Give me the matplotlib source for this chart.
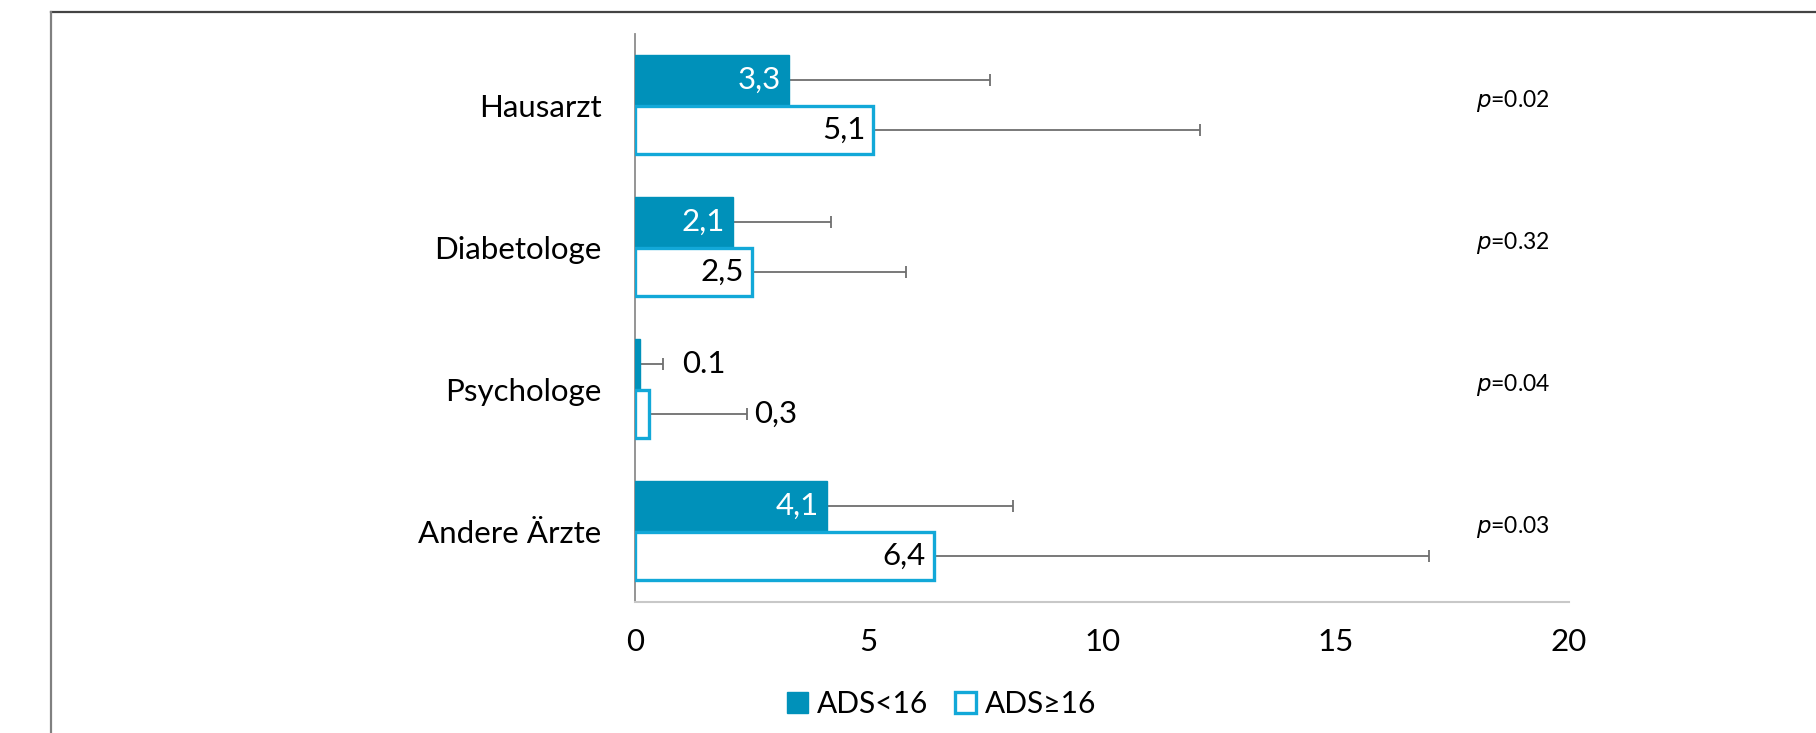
import numpy as np
import matplotlib.pyplot as plt
from matplotlib.lines import Line2D
from matplotlib.patches import Patch

plt.rcParams['font.family'] = ['Lato', 'DejaVu Sans']

categories = ['Hausarzt', 'Diabetologe', 'Psychologe', 'Andere Ärzte']
mean_low = [3.3, 2.1, 0.1, 4.1]      # ADS<16
sd_low = [4.3, 2.1, 0.5, 4.0]
mean_high = [5.1, 2.5, 0.3, 6.4]     # ADS>=16
sd_high = [7.0, 3.3, 2.1, 10.6]
labels_low = ['3,3', '2,1', '0.1', '4,1']
labels_high = ['5,1', '2,5', '0,3', '6,4']
p_values = ['0.02', '0.32', '0.04', '0.03']

fill_col = '#0091BA'
edge_col = '#12A8D8'
err_col = '#6e6e6e'
fs = 22.5

fig = plt.figure(figsize=(18.16, 7.33), dpi=100)
ax = fig.add_axes([0.3497, 0.1787, 0.8640 - 0.3497, 0.9536 - 0.1787])

y = np.arange(len(categories))
h = 0.355
y_low = y - h / 2
y_high = y + h / 2

ax.barh(y_low, mean_low, height=h, color=fill_col, edgecolor=fill_col, linewidth=1, zorder=3)
ax.barh(y_high, mean_high, height=h - 0.02, color='white', edgecolor=edge_col, linewidth=2.4, zorder=3)

# one-sided error bars (mean + SD)
for yy, m, s in list(zip(y_low, mean_low, sd_low)) + list(zip(y_high, mean_high, sd_high)):
    ax.hlines(yy, m, m + s, color=err_col, linewidth=1.3, zorder=2)
    ax.plot([m + s], [yy], marker='|', markersize=8, markeredgewidth=1.3, color=err_col, zorder=2)

# value labels: inside the bar where there is room, else right of the error bar
small_off = {0.1: 19, 0.3: 7}
for yy, m, s, lab, col in list(zip(y_low, mean_low, sd_low, labels_low, ['white'] * 4)) + \
        list(zip(y_high, mean_high, sd_high, labels_high, ['black'] * 4)):
    if m < 1:
        ax.annotate(lab, (m + s, yy), xytext=(small_off[m], 0), textcoords='offset pixels',
                    ha='left', va='center', fontsize=fs, color='black')
    else:
        ax.annotate(lab, (m, yy), xytext=(-8, 0), textcoords='offset pixels',
                    ha='right', va='center', fontsize=fs, color=col, zorder=4)

for yy, p in zip(y, p_values):
    ax.text(18.0, yy - 0.03, '$p$=' + p, ha='left', va='center', fontsize=16.5,
            math_fontfamily='dejavusans')

ax.set_xlim(0, 20)
ax.set_ylim(3.5, -0.5)
ax.set_yticks(y)
ax.set_yticklabels(categories)
ax.set_xticks([0, 5, 10, 15, 20])
ax.tick_params(axis='both', length=0, labelsize=fs)
ax.tick_params(axis='y', pad=24)
ax.tick_params(axis='x', pad=19)

for side in ['top', 'right']:
    ax.spines[side].set_visible(False)
ax.spines['left'].set_color('#8c8c8c')
ax.spines['left'].set_linewidth(1.3)
ax.spines['bottom'].set_color('#c8c8c8')
ax.spines['bottom'].set_linewidth(1.5)

handles = [Patch(facecolor=fill_col, edgecolor=fill_col),
           Patch(facecolor='white', edgecolor=edge_col, linewidth=2.4)]
fig.legend(handles, ['ADS<16', 'ADS≥16'], loc='center', bbox_to_anchor=(942 / 1816, 1 - 704 / 733),
           ncol=2, frameon=False, fontsize=21.5, handlelength=0.7, handleheight=0.7,
           handletextpad=0.3, columnspacing=0.9)

# outer frame lines
fig.add_artist(Line2D([51 / 1816, 1], [1 - 12 / 733, 1 - 12 / 733], color='#444444', linewidth=1.6))
fig.add_artist(Line2D([51 / 1816, 51 / 1816], [0, 1 - 12 / 733], color='#808080', linewidth=1.6))

fig.savefig('out.png', dpi=100)
